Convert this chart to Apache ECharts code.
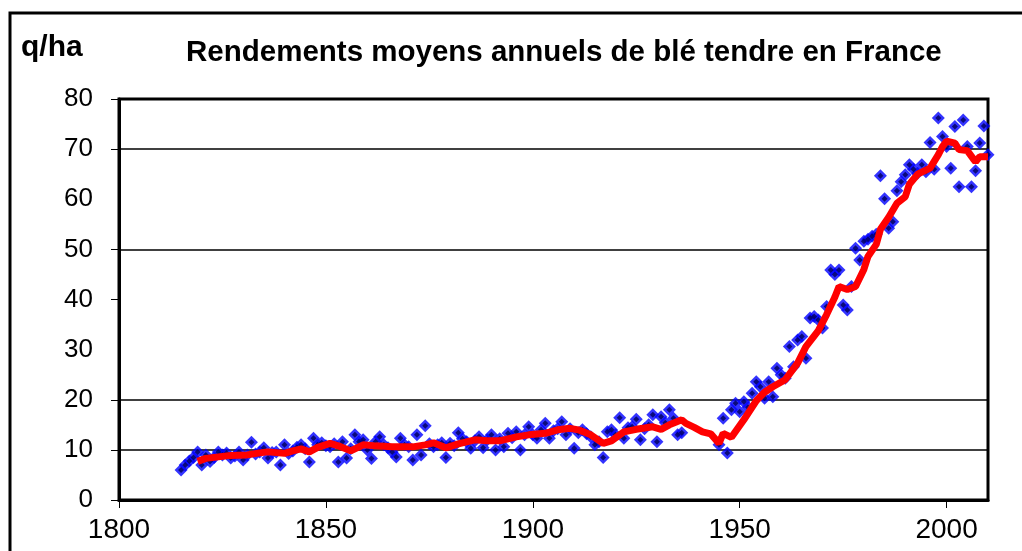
<!DOCTYPE html>
<html>
<head>
<meta charset="utf-8">
<title>Rendements moyens annuels de blé tendre en France</title>
<script src="https://cdn.jsdelivr.net/npm/echarts@6/dist/echarts.min.js"></script>
<style>
    html, body { margin: 0; padding: 0; background: #fff; }
    #main { width: 1022px; height: 551px; }
</style>
</head>
<body>
<div id="main"></div>
<script>
// 年产量 (q/ha), 1815 起每年一个值, null = 无数据
var yieldStart = 1815;
var yieldValues = [
    6.0, 7.0, 7.8, 8.5, 9.6,                                   // 1815-1819
    7.0, 9.0, 7.7, 8.5, 9.6, 9.0, 9.4, 8.4, 8.8, 9.6,          // 1820
    8.0, 9.0, 11.5, 9.2, 9.6, 10.4, 8.4, 9.5, 9.6, 7.0,        // 1830
    11.0, 9.3, 9.8, 10.5, 11.0, 10.2, 7.6, 12.3, 11.0, 11.4,   // 1840
    10.8, 10.6, 11.2, 7.6, 11.6, 8.4, 10.2, 13.0, 11.6, 12.0,  // 1850
    10.0, 8.3, 11.6, 12.6, 11.0, 10.4, 9.6, 8.6, 12.3, 11.0,   // 1860
    10.6, 8.0, 13.0, 9.0, 14.8, 11.2, 10.6, 11.0, 11.4, 8.5,   // 1870
    11.3, 10.8, 13.4, 12.2, 11.6, 10.3, 11.8, 12.6, 10.4, 12.0, // 1880
    13.0, 10.0, 12.2, 10.6, 13.3, 12.4, 13.6, 10.0, 13.0, 14.6, // 1890
    13.0, 12.3, 14.0, 15.3, 12.3, 13.8, 14.2, 15.6, 13.0, 14.2, // 1900
    10.3, 13.4, 14.0, 13.2, 12.6, 11.0, 11.6, 8.5, 13.6, 14.0,  // 1910
    13.0, 16.4, 12.3, 14.4, 14.6, 16.1, 12.0, 14.2, 15.0, 17.0, // 1920
    11.6, 16.6, 15.4, 18.0, 16.3, 13.0, 13.4, null, null, null, // 1930
    null, null, null, null, null, 11.0, 16.3, 9.4, 18.0, 19.3,  // 1940
    17.6, 19.6, 18.5, 21.3, 23.6, 22.6, 20.3, 23.6, 20.6, 26.3, // 1950
    25.0, 24.3, 30.6, 26.6, 31.9, 32.6, 28.3, 36.3, 36.6, 35.9, // 1960
    34.3, 38.6, 45.9, 45.0, 45.9, 38.9, 37.9, 42.6, 50.2, 47.9, // 1970
    51.6, 52.0, 52.6, 53.0, 64.7, 60.1, 54.2, 55.5, 61.7, 63.5, // 1980
    64.9, 66.9, 66.0, 65.2, 66.9, 65.5, 71.3, 66.0, 76.2, 72.5, // 1990
    70.5, 66.2, 74.5, 62.5, 75.8, 70.5, 62.5, 65.7, 71.2, 74.6, 68.9 // 2000-2010
];

// 移动平均 (红线), 读图所得
var avgYears = [
    1819, 1821, 1824, 1827, 1831, 1834, 1836, 1840, 1842, 1844, 1846, 1848,
    1851, 1853, 1856, 1859, 1862, 1866, 1871, 1874, 1876, 1879, 1882, 1886,
    1889, 1892, 1896, 1899, 1903, 1906, 1909, 1911, 1914, 1917, 1919, 1922,
    1925, 1929, 1931, 1933, 1936, 1937, 1939, 1941, 1943, 1945, 1946, 1948,
    1951, 1954, 1956, 1958, 1961, 1964, 1966, 1969, 1971, 1973, 1974, 1976,
    1978, 1980, 1981, 1983, 1984, 1986, 1988, 1990, 1991, 1993, 1996, 1998,
    1999, 2000, 2002, 2003, 2005, 2006.5, 2007, 2008, 2010
];
var avgValues = [
    7.7, 8.3, 8.6, 8.9, 9.0, 9.4, 9.6, 9.3, 9.8, 10.2, 9.6, 10.5,
    11.3, 10.8, 9.8, 11.0, 10.8, 10.6, 10.6, 11.0, 11.4, 10.4, 11.2, 12.0,
    11.8, 11.8, 12.6, 13.0, 13.3, 14.0, 14.3, 14.0, 13.0, 11.3, 11.8, 13.6,
    14.1, 14.6, 14.1, 15.0, 16.0, 15.3, 14.5, 13.6, 13.2, 11.3, 13.3, 12.5,
    16.0, 19.8, 21.5, 22.6, 24.0, 27.3, 30.6, 33.8, 37.0, 40.5, 42.6, 42.0,
    42.6, 46.0, 48.6, 51.0, 54.0, 56.4, 59.2, 60.5, 63.0, 65.0, 66.2, 68.9,
    70.5, 71.6, 71.2, 69.9, 69.7, 68.0, 67.5, 68.5, 68.5
];

// 坐标轴
var xTicks = [1800, 2010, 50];
var yTicks = [0, 10, 20, 40, 50, 70, 80];   // 图上 30 和 60 没有刻度/网格线

var fontFamily = '"Liberation Sans", Arial, sans-serif';

var chart = echarts.init(document.getElementById('main'));

var points = [];
for (var i = 0; i < yieldValues.length; i++) {
    if (yieldValues[i] != null) {
        points.push([yieldStart + i, yieldValues[i]]);
    }
}
var avgLine = avgYears.map(function (y, i) {
    return [y, avgValues[i]];
});

// 网格线颜色: 0..80 每 10 一条
var gridColors = [];
for (var v = 0; v <= 80; v += 10) {
    gridColors.push(yTicks.indexOf(v) >= 0 ? '#000' : 'rgba(0,0,0,0)');
}

var option = {
    backgroundColor: '#fff',
    animation: false,
    title: {
        text: 'Rendements moyens annuels de blé tendre en France',
        left: 181,
        top: 33,
        textStyle: {
            fontFamily: fontFamily,
            fontWeight: 'bold',
            fontSize: 29.5,
            color: '#000'
        }
    },
    graphic: [
        {
            type: 'rect',
            shape: { x: 10, y: 13, width: 1100, height: 600 },
            style: { fill: null, stroke: '#000', lineWidth: 3 },
            silent: true
        },
        {
            type: 'text',
            left: 21,
            top: 33,
            style: {
                text: 'q/ha',
                font: 'bold 30px ' + fontFamily,
                fill: '#000'
            }
        }
    ],
    grid: {
        left: 119,
        right: 34,
        top: 99,
        bottom: 51,
        show: true,
        borderColor: '#000',
        borderWidth: 3,
        backgroundColor: '#fff'
    },
    xAxis: {
        type: 'value',
        min: xTicks[0],
        max: xTicks[1],
        interval: xTicks[2],
        axisLine: { lineStyle: { color: '#000', width: 3 } },
        axisTick: { length: 8, lineStyle: { color: '#000', width: 1 } },
        axisLabel: {
            showMaxLabel: false,
            margin: 16,
            fontFamily: fontFamily,
            fontSize: 28,
            color: '#000',
            formatter: function (val) {
                return String(val);
            }
        },
        splitLine: { show: false }
    },
    yAxis: {
        type: 'value',
        min: 0,
        max: 80,
        interval: 10,
        axisLine: { show: true, lineStyle: { color: '#000', width: 3 } },
        axisTick: {
            show: true,
            length: 8,
            customValues: yTicks,
            lineStyle: { color: '#000', width: 1 }
        },
        axisLabel: {
            margin: 26,
            fontFamily: fontFamily,
            fontSize: 26,
            color: '#000'
        },
        splitLine: {
            show: true,
            lineStyle: { color: gridColors, width: 1.5 }
        }
    },
    series: [
        {
            name: 'rendement',
            type: 'scatter',
            symbol: 'diamond',
            symbolSize: 13,
            itemStyle: { color: '#0000ff' },
            data: points,
            z: 2
        },
        {
            // 菱形中心的深色点
            name: 'rendement-centre',
            type: 'scatter',
            symbol: 'diamond',
            symbolSize: 6,
            itemStyle: { color: '#00005a' },
            data: points,
            silent: true,
            z: 2
        },
        {
            name: 'moyenne',
            type: 'line',
            showSymbol: false,
            symbol: 'none',
            lineStyle: { color: '#ff0000', width: 7 },
            data: avgLine,
            z: 3
        }
    ]
};

chart.setOption(option);
</script>
</body>
</html>
